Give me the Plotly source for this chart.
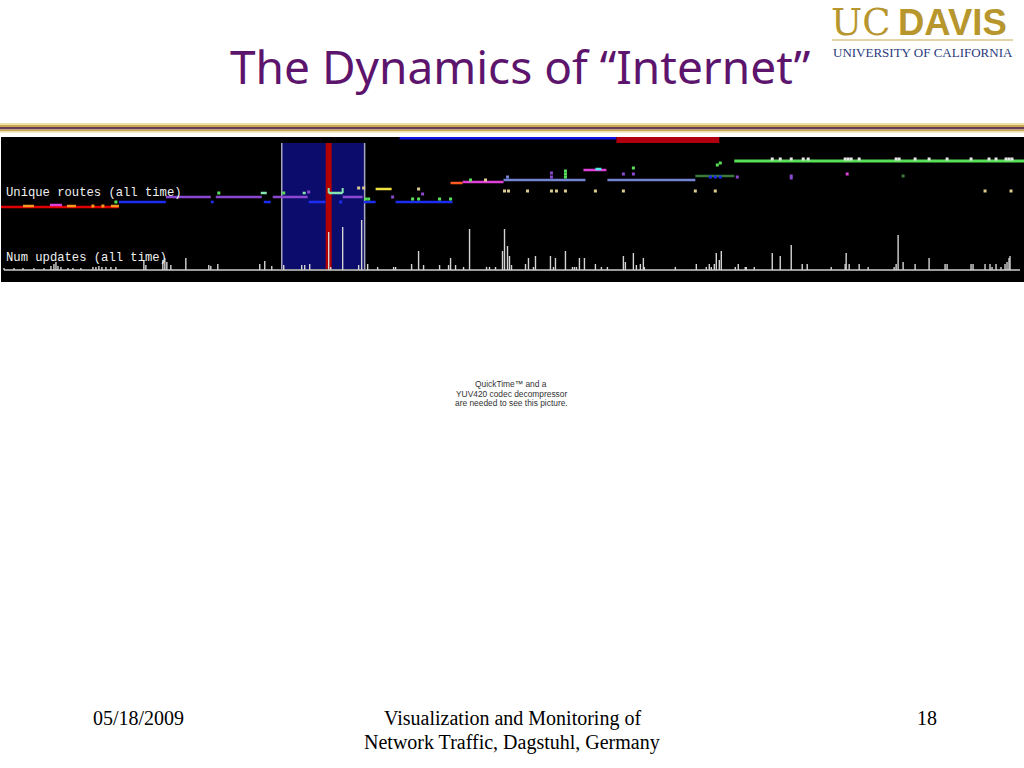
import plotly.graph_objects as go

W, H = 1024, 768

# ---------------- data ----------------
# Num updates (all time): time position and update count (height above baseline)
update_times = [3, 13, 22, 33, 43, 50, 53, 55, 57, 60, 67, 72, 80, 92, 95, 98, 101, 105, 110, 115,
                143, 145, 162, 164, 166, 170, 185, 208, 210, 217,
                259, 264, 271, 283, 301, 304, 309, 328, 330, 342, 358, 361, 367, 377, 393, 395,
                411, 418, 423, 439, 448, 450, 455, 463, 469, 486, 489, 495, 502, 504, 507, 509, 511,
                525, 528, 533, 535, 550, 553, 555, 565, 572, 574, 576, 579, 584, 595, 601, 607,
                623, 625, 633, 636, 640, 643, 644, 675, 696, 706, 709, 711, 714, 716, 719, 721,
                735, 738, 745, 746, 754,
                772, 780, 791, 802, 807, 831, 845, 846, 849, 859, 868, 894, 896, 898, 903, 915,
                929, 945, 947, 971, 973, 985, 990, 992, 996, 1001, 1005, 1007, 1009, 1010]
update_counts = [2, 2, 2, 2, 2, 4, 6, 8, 4, 3, 2, 2, 2, 3, 3, 4, 3, 3, 3, 3,
                 10, 5, 10, 12, 8, 5, 12, 5, 4, 6,
                 6, 9, 4, 5, 5, 5, 6, 38, 3, 43, 5, 50, 6, 3, 3, 3,
                 6, 19, 5, 5, 5, 12, 5, 3, 41, 3, 3, 3, 19, 41, 24, 14, 5,
                 6, 12, 3, 14, 14, 3, 12, 19, 3, 3, 3, 12, 12, 6, 3, 3,
                 14, 8, 17, 5, 6, 12, 3, 3, 6, 3, 6, 3, 6, 17, 10, 19,
                 3, 6, 3, 3, 3,
                 17, 14, 25, 6, 6, 3, 6, 17, 6, 6, 3, 3, 6, 35, 8, 6,
                 12, 6, 6, 6, 6, 6, 6, 3, 6, 3, 6, 8, 12, 14]

# Unique routes (all time): route segments (start, end, level, route id)
seg_start = [0, 22, 66, 110, 49, 462, 583, 118, 210, 263, 308, 363, 395,
             165, 215, 272, 342, 260, 302, 328, 375, 450, 503, 607, 595, 695, 734]
seg_end = [118, 33, 75, 118, 61, 503, 606, 165, 213, 270, 325, 375, 452,
           210, 261, 307, 362, 266, 305, 342, 391, 462, 585, 695, 601, 734, 1024]
seg_level = [63, 64, 64, 64, 65, 88, 100, 68, 68, 68, 68, 68, 68,
             73, 73, 73, 73, 77, 77, 77, 81, 87, 90, 90, 101, 94, 109]
seg_route = ["red", "orange", "orange", "orange", "magenta", "magenta", "magenta",
             "blue", "blue", "blue", "blue", "blue", "blue",
             "purple", "purple", "purple", "purple", "mint", "mint", "mint",
             "yellow", "orangered", "steel", "steel", "cyan", "darkgreen", "green"]

# single route events (time, level, route id)
dot_time = [115, 218, 283, 365, 368, 412, 418, 439, 450, 470, 565, 565, 565, 633, 717, 720,
            504, 508, 527, 551, 556, 565, 595, 623, 695, 715, 985, 1011, 358, 363, 418, 485,
            92, 102,
            308, 392, 422, 551, 551, 623, 633, 737, 791, 791,
            847, 903, 340, 710, 715, 720, 507,
            772, 780, 791, 803, 808, 845, 848, 851, 859, 896, 899, 915, 929, 947, 971, 989, 996,
            1006, 1009, 1012]
dot_level = [68, 77, 77, 71, 71, 71, 71, 71, 71, 90, 93, 96, 99, 102, 105, 107,
             79, 79, 79, 79, 79, 79, 79, 79, 79, 79, 79, 79, 82, 82, 81, 90,
             64, 64,
             78, 73, 76, 97, 93, 96, 96, 93, 92, 94,
             96, 94, 68, 93, 93, 93, 93,
             111, 111, 111, 111, 111, 111, 111, 111, 111, 111, 111, 111, 111, 111, 111, 111, 111,
             111, 111, 111]
dot_route = (["green"] * 16 + ["tan"] * 16 + ["orange"] * 2 + ["purple"] * 10 +
             ["magenta", "darkgreen", "blue", "blue", "blue", "blue", "steel"] + ["white"] * 20)

# mint bracket ticks (time) spanning levels
bracket_time = [328, 342]
bracket_levels = [77, 82]

# progress bar at top of the animation (start, end, level, kind)
bar_start = [399, 616, 617]
bar_end = [616, 719, 677]
bar_level = [132, 130, 131]
bar_kind = ["topblue", "topred", "topblue"]

# highlighted time window and current-time marker
window_range = [281, 364]
window_levels = [-1, 127]
marker_range = [325, 331]

baseline_range = [3, 1020]

# ---------------- styles ----------------
route_color = {
    "red": "#e00000", "orange": "#f59a20", "magenta": "#e040d8", "blue": "#1c2cf0",
    "purple": "#8a48d0", "mint": "#88e6b0", "yellow": "#f0e040", "orangered": "#ff5a20",
    "steel": "#7484d4", "cyan": "#50e8e8", "darkgreen": "#3a7a3a", "green": "#58e058",
    "tan": "#dccc90", "white": "#e8e8e8", "topblue": "#1010e0", "topred": "#b00010",
}
route_width = {"topred": 6, "topblue": 3, "green": 3}

fig = go.Figure()

# highlight window and marker
fig.add_shape(type="rect", xref="x", yref="y", x0=window_range[0], x1=window_range[1],
              y0=window_levels[0], y1=window_levels[1], fillcolor="#0c0c6c",
              line=dict(width=0), layer="below")
for xb in window_range:
    fig.add_shape(type="line", xref="x", yref="y", x0=xb, x1=xb,
                  y0=window_levels[0], y1=window_levels[1],
                  line=dict(color="#a8a8c0", width=1.5), layer="below")
fig.add_shape(type="rect", xref="x", yref="y", x0=marker_range[0], x1=marker_range[1],
              y0=window_levels[0], y1=window_levels[1], fillcolor="#b40000",
              line=dict(width=0), layer="below")

# baseline
fig.add_trace(go.Scatter(x=baseline_range, y=[0, 0], mode="lines",
                         line=dict(color="#9a9a9a", width=2), hoverinfo="skip", showlegend=False))

# spikes
sx, sy = [], []
for t, c in zip(update_times, update_counts):
    sx += [t, t, None]
    sy += [0, c, None]
fig.add_trace(go.Scatter(x=sx, y=sy, mode="lines", line=dict(color="#d4d4d4", width=1.4),
                         hoverinfo="skip", showlegend=False))

# route segments grouped by route
for rid in dict.fromkeys(seg_route + bar_kind):
    xs, ys = [], []
    for a, b, lv, r in zip(seg_start + bar_start, seg_end + bar_end,
                           seg_level + bar_level, seg_route + bar_kind):
        if r == rid:
            xs += [a, b, None]
            ys += [lv, lv, None]
    fig.add_trace(go.Scatter(x=xs, y=ys, mode="lines",
                             line=dict(color=route_color[rid], width=route_width.get(rid, 2.5)),
                             hoverinfo="skip", showlegend=False))

# bracket ticks
bx, by = [], []
for t in bracket_time:
    bx += [t, t, None]
    by += [bracket_levels[0], bracket_levels[1], None]
fig.add_trace(go.Scatter(x=bx, y=by, mode="lines", line=dict(color=route_color["mint"], width=2),
                         hoverinfo="skip", showlegend=False))

# dots
for rid in dict.fromkeys(dot_route):
    xs = [t for t, r in zip(dot_time, dot_route) if r == rid]
    ys = [lv for lv, r in zip(dot_level, dot_route) if r == rid]
    fig.add_trace(go.Scatter(x=xs, y=ys, mode="markers",
                             marker=dict(symbol="square", size=3, color=route_color[rid],
                                         line=dict(width=0)),
                             hoverinfo="skip", showlegend=False))

# labels inside the animation frame
fig.add_annotation(x=3, y=77, xref="x", yref="y", text="Unique routes (all time)",
                   showarrow=False, xanchor="left", yanchor="middle",
                   font=dict(family="Liberation Mono", size=12.2, color="#f0f0f0"))
fig.add_annotation(x=3, y=12, xref="x", yref="y", text="Num updates (all time)",
                   showarrow=False, xanchor="left", yanchor="middle",
                   font=dict(family="Liberation Mono", size=12.2, color="#f0f0f0"))


def px(x):
    return x / W


def py(y):
    return 1 - y / H


# header stripe
stripes = [(123, 125, "#efe2a8"), (125, 127, "#c9a850"), (127, 129.5, "#6a3c5c"),
           (129.5, 131.5, "#c9a850"), (131.5, 133, "#f3ecc8")]
for y0, y1, col in stripes:
    fig.add_shape(type="rect", xref="paper", yref="paper", x0=0, x1=1, y0=py(y1), y1=py(y0),
                  fillcolor=col, line=dict(width=0), layer="above")

# title
fig.add_annotation(x=px(520), y=py(66), xref="paper", yref="paper",
                   text="The Dynamics of \u201cInternet\u201d", showarrow=False,
                   xanchor="center", yanchor="middle",
                   font=dict(family="Noto Sans", size=46, color="#5c146c"))

# logo
fig.add_annotation(x=px(829), y=py(22.5), xref="paper", yref="paper", text="UC", showarrow=False,
                   xanchor="left", yanchor="middle",
                   font=dict(family="DejaVu Serif", size=37, color="#b8962e"))
fig.add_annotation(x=px(896), y=py(22), xref="paper", yref="paper", text="<b>DAVIS</b>",
                   showarrow=False, xanchor="left", yanchor="middle",
                   font=dict(family="Liberation Sans", size=36.5, color="#b8962e"))
fig.add_shape(type="line", xref="paper", yref="paper", x0=px(832), x1=px(1013), y0=py(40),
              y1=py(40), line=dict(color="#c8aa50", width=1))
fig.add_annotation(x=px(923), y=py(52.5), xref="paper", yref="paper",
                   text="UNIVERSITY OF CALIFORNIA", showarrow=False,
                   xanchor="center", yanchor="middle",
                   font=dict(family="Liberation Serif", size=13, color="#2a3a7c"))

# QuickTime placeholder
qt_lines = ["QuickTime\u2122 and a", "YUV420 codec decompressor", "are needed to see this picture."]
for i, line in enumerate(qt_lines):
    fig.add_annotation(x=px(511), y=py(384 + 9.5 * i), xref="paper", yref="paper", text=line,
                       showarrow=False, xanchor="center", yanchor="middle",
                       font=dict(family="Liberation Sans", size=8.4, color="#333333"))

# footer
foot_font = dict(family="Liberation Serif", size=20, color="#000000")
fig.add_annotation(x=px(138), y=py(718), xref="paper", yref="paper", text="05/18/2009",
                   showarrow=False, xanchor="center", yanchor="middle", font=foot_font)
fig.add_annotation(x=px(512), y=py(718), xref="paper", yref="paper",
                   text="Visualization and Monitoring of", showarrow=False,
                   xanchor="center", yanchor="middle", font=foot_font)
fig.add_annotation(x=px(512), y=py(742), xref="paper", yref="paper",
                   text="Network Traffic, Dagstuhl, Germany", showarrow=False,
                   xanchor="center", yanchor="middle", font=foot_font)
fig.add_annotation(x=px(927), y=py(718), xref="paper", yref="paper", text="18",
                   showarrow=False, xanchor="center", yanchor="middle", font=foot_font)

fig.update_layout(
    width=W, height=H, margin=dict(l=0, r=0, t=0, b=0),
    paper_bgcolor="white", plot_bgcolor="black",
    xaxis=dict(domain=[px(1), 1], range=[0, 1024], visible=False, fixedrange=True),
    yaxis=dict(domain=[py(282), py(137)], range=[-12, 133], visible=False, fixedrange=True),
    showlegend=False,
)

fig.write_html("out.html", config={"displayModeBar": False},
               post_script="document.body.style.margin='0';document.body.style.overflow='hidden';")
